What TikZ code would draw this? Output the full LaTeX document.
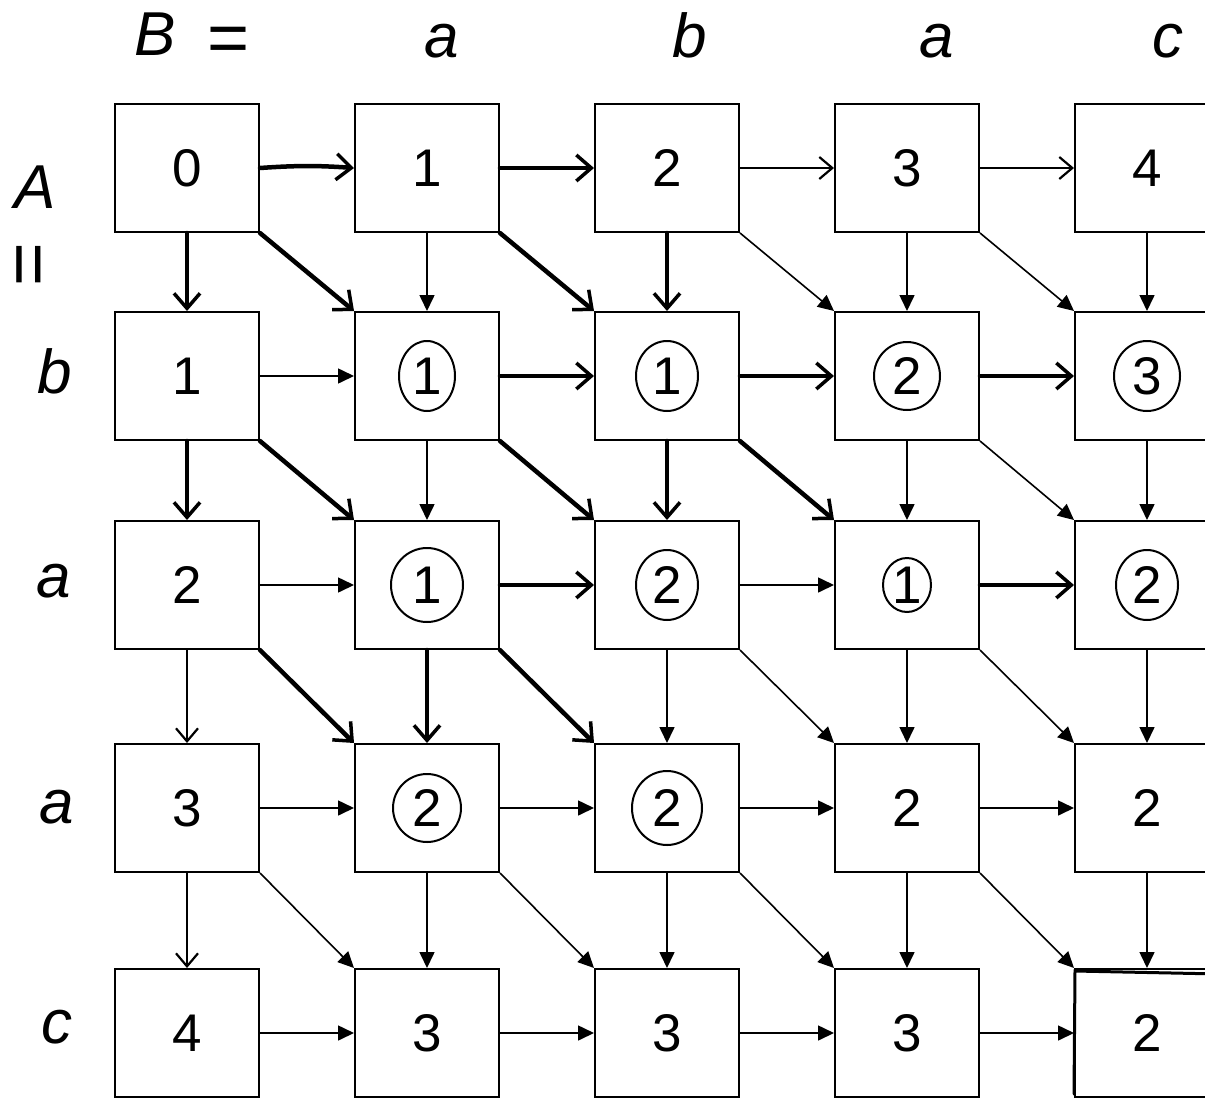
\documentclass[tikz,border=0pt]{standalone}
\usepackage{fontspec}
\setmainfont{Liberation Sans}
\usetikzlibrary{arrows.meta}
\tikzset{
    cell-box/.style = {draw, line width=2pt, minimum width=144pt, minimum height=128pt, inner sep=0pt, font=\fontsize{53}{60}\selectfont},
    seq-label/.style = {anchor=base, inner sep=0pt, font=\fontsize{62}{70}\selectfont\itshape},
    plain-arrow/.style = {line width=1.6pt, -{Triangle[length=16pt,width=15pt]}},
    pen-arrow/.style = {line width=4.5pt, line cap=round, -{Straight Barb[length=15pt,width=26pt,line width=3.5pt]}},
    pen-light/.style = {line width=2.2pt, line cap=round, -{Straight Barb[length=13pt,width=22pt,line width=2.2pt]}},
    ring/.style = {line width=2pt},
}

\begin{document}
\begin{tikzpicture}[x=1pt, y=-1pt]
\useasboundingbox (0,0) rectangle (1205,1098);

% the two strings
\node[seq-label] (bname) at (192,55) {B\hspace{0.5em}\raisebox{-7pt}{\upshape\fontsize{72}{80}\selectfont=}};
\node[seq-label] (b1) at (442,57) {a};
\node[seq-label] (b2) at (690,57) {b};
\node[seq-label] (b3) at (937,57) {a};
\node[seq-label] (b4) at (1168,57) {c};
\node[seq-label] (aname) at (35,208) {A};
\node[anchor=center, inner sep=0pt, rotate=90, font=\fontsize{75}{80}\selectfont] (aeq) at (35,265) {=};
\node[seq-label] (a1) at (55,393) {b};
\node[seq-label] (a2) at (54,597) {a};
\node[seq-label] (a3) at (57,823) {a};
\node[seq-label] (a4) at (57,1043) {c};

% the table
\foreach \r/\y/\vals in {0/168/{0,1,2,3,4}, 1/376/{1,1,1,2,3}, 2/585/{2,1,2,1,2}, 3/808/{3,2,2,2,2}, 4/1033/{4,3,3,3,2}}{
  \foreach \v [count=\c from 0] in \vals {
    \node[cell-box] (n\r\c) at ({187+240*\c},\y) {\v};
  }
}

% printed arrows
\foreach \r/\c in {1/0,2/0,2/2,3/0,3/1,3/2,3/3,4/0,4/1,4/2,4/3}{
  \pgfmathtruncatemacro\d{\c+1}
  \draw[plain-arrow] (n\r\c.east) -- (n\r\d.west);
}
\foreach \r/\c in {0/1,1/1,3/1,2/2,3/2,0/3,1/3,2/3,3/3,0/4,1/4,2/4,3/4}{
  \pgfmathtruncatemacro\s{\r+1}
  \draw[plain-arrow] (n\r\c.south) -- (n\s\c.north);
}
\foreach \r/\c in {0/2,0/3,1/3,2/2,2/3,3/0,3/1,3/2,3/3}{
  \pgfmathtruncatemacro\s{\r+1}
  \pgfmathtruncatemacro\d{\c+1}
  \draw[plain-arrow] (n\r\c.south east) -- (n\s\d.north west);
}

% pen marks: the traced paths
\draw[pen-arrow] (n00.east) to[bend left=4] (n01.west);
\draw[pen-arrow] (n01.east) -- (n02.west);
\draw[pen-light] (n02.east) -- (n03.west);
\draw[pen-light] (n03.east) -- (n04.west);
\draw[pen-arrow] (n11.east) -- (n12.west);
\draw[pen-arrow] (n12.east) -- (n13.west);
\draw[pen-arrow] (n13.east) -- (n14.west);
\draw[pen-arrow] (n21.east) -- (n22.west);
\draw[pen-arrow] (n23.east) -- (n24.west);

\draw[pen-arrow] (n00.south) -- (n10.north);
\draw[pen-arrow] (n10.south) -- (n20.north);
\draw[pen-light] (n20.south) -- (n30.north);
\draw[pen-light] (n30.south) -- (n40.north);
\draw[pen-arrow] (n02.south) -- (n12.north);
\draw[pen-arrow] (n12.south) -- (n22.north);
\draw[pen-arrow] (n21.south) -- (n31.north);

\draw[pen-arrow] (n00.south east) -- (n11.north west);
\draw[pen-arrow] (n01.south east) -- (n12.north west);
\draw[pen-arrow] (n10.south east) -- (n21.north west);
\draw[pen-arrow] (n11.south east) -- (n22.north west);
\draw[pen-arrow] (n12.south east) -- (n23.north west);
\draw[pen-arrow] (n20.south east) -- (n31.north west);
\draw[pen-arrow] (n21.south east) -- (n32.north west);

% pen marks: rings
\draw[ring] (n11) ellipse [x radius=28, y radius=35];
\draw[ring] (n12) ellipse [x radius=31, y radius=35];
\draw[ring] (n13) ellipse [x radius=33, y radius=34];
\draw[ring] (n14) ellipse [x radius=33, y radius=35];
\draw[ring] (n21) ellipse [x radius=36, y radius=37];
\draw[ring] (n22) ellipse [x radius=31, y radius=35];
\draw[ring] (n23) ellipse [x radius=24, y radius=27];
\draw[ring] (n24) ellipse [x radius=31, y radius=35];
\draw[ring] (n31) ellipse [x radius=34, y radius=34];
\draw[ring] (n32) ellipse [x radius=35, y radius=37];

% pen marks: last cell
\draw[line width=3pt, line cap=round] ([yshift=4pt]n44.south west) -- ([xshift=1pt,yshift=-3pt]n44.north west) -- ([yshift=-6pt]n44.north east);
\end{tikzpicture}
\end{document}
